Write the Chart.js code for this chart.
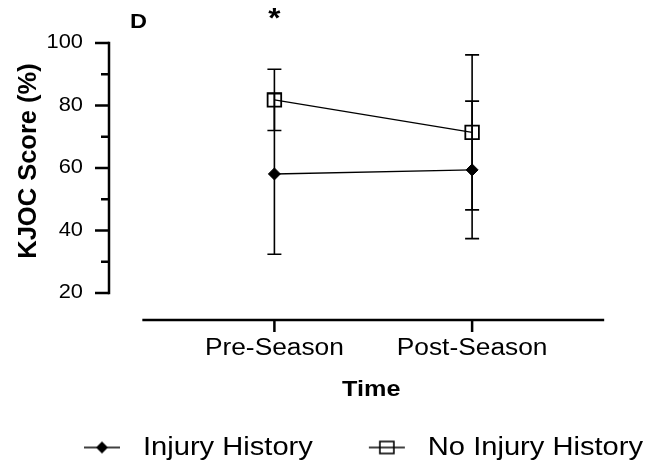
<!DOCTYPE html>
<html>
<head>
<meta charset="utf-8">
<script src="https://cdn.jsdelivr.net/npm/chart.js@4/dist/chart.umd.min.js"></script>
<style>
  html, body { margin: 0; padding: 0; background: #fff; }
  canvas { display: block; }
</style>
</head>
<body>
<canvas id="c" width="645" height="462"></canvas>
<script>
// ---- data ----
const categories = ['Pre-Season', 'Post-Season'];
const seriesNames = ['Injury History', 'No Injury History'];
const injuryMean = [58.1, 59.4];
const injurySD = [25.7, 22.0];
const noInjuryMean = [81.8, 71.4];
const noInjurySD = [9.8, 24.8];
const yMajorTicks = [20, 40, 60, 80, 100];
const yMinorTicks = [30, 50, 70, 90];
const significance = ['*', ''];
const panelLabel = 'D';
const xTitle = 'Time';
const yTitle = 'KJOC Score (%)';

// ---- layout / style ----
const FONT = '"Liberation Sans", Arial, Helvetica, sans-serif';
const TEXT_STRETCH = 1.12;          // horizontal widening of upright text
const X_MIN = -0.8366, X_MAX = 1.8168;   // x scale range (category index units)
const X_LINE_MIN = -0.668, X_LINE_MAX = 1.668; // drawn extent of the x axis line
const Y_MIN = 11.36, Y_MAX = 100;
const AXIS_W = 2.5;

const canvas = document.getElementById('c');
const ctx = canvas.getContext('2d');

// Wide-set lettering: stretch upright text horizontally, keep rotated text as is.
const rawFill = ctx.fillText.bind(ctx);
const rawMeasure = ctx.measureText.bind(ctx);
function isUpright() {
  const m = ctx.getTransform();
  return Math.abs(m.b) < 1e-6 && Math.abs(m.c) < 1e-6;
}
ctx.fillText = function (text, x, y, maxWidth) {
  if (!isUpright()) {
    return maxWidth === undefined ? rawFill(text, x, y) : rawFill(text, x, y, maxWidth);
  }
  ctx.save();
  ctx.translate(x, y);
  ctx.scale(TEXT_STRETCH, 1);
  if (maxWidth === undefined) rawFill(text, 0, 0);
  else rawFill(text, 0, 0, maxWidth / TEXT_STRETCH);
  ctx.restore();
};
ctx.measureText = function (text) {
  const m = rawMeasure(text);
  if (!isUpright()) return m;
  return {
    width: m.width * TEXT_STRETCH,
    actualBoundingBoxLeft: m.actualBoundingBoxLeft * TEXT_STRETCH,
    actualBoundingBoxRight: m.actualBoundingBoxRight * TEXT_STRETCH,
    actualBoundingBoxAscent: m.actualBoundingBoxAscent,
    actualBoundingBoxDescent: m.actualBoundingBoxDescent,
    fontBoundingBoxAscent: m.fontBoundingBoxAscent,
    fontBoundingBoxDescent: m.fontBoundingBoxDescent
  };
};

// Legend symbols: short line with the series marker
function makeIcon(kind) {
  const c = document.createElement('canvas');
  c.width = 100; c.height = 20;
  const g = c.getContext('2d');
  const cx = 73, cy = 10;
  g.strokeStyle = '#000';
  g.lineWidth = 1.6;
  g.beginPath(); g.moveTo(cx - 18, cy); g.lineTo(cx + 18, cy); g.stroke();
  if (kind === 'diamond') {
    g.fillStyle = '#000';
    g.beginPath();
    g.moveTo(cx - 6, cy); g.lineTo(cx, cy - 6); g.lineTo(cx + 6, cy); g.lineTo(cx, cy + 6);
    g.closePath(); g.fill();
  } else {
    g.strokeRect(cx - 7, cy - 6, 14, 12);
  }
  return c;
}
const legendIcons = [makeIcon('diamond'), makeIcon('square')];

// SD error bars behind the markers
const errorBars = {
  id: 'errorBars',
  beforeDatasetsDraw(chart) {
    const { ctx } = chart;
    const xs = chart.scales.x, ys = chart.scales.y;
    ctx.save();
    ctx.strokeStyle = '#000';
    ctx.lineWidth = 1.6;
    chart.data.datasets.forEach(ds => {
      ds.data.forEach((p, i) => {
        const x = xs.getPixelForValue(p.x);
        const top = ys.getPixelForValue(p.y + ds.sd[i]);
        const bot = ys.getPixelForValue(p.y - ds.sd[i]);
        ctx.beginPath();
        ctx.moveTo(x, top); ctx.lineTo(x, bot);
        ctx.moveTo(x - 7, top); ctx.lineTo(x + 7, top);
        ctx.moveTo(x - 7, bot); ctx.lineTo(x + 7, bot);
        ctx.stroke();
      });
    });
    ctx.restore();
  }
};

// Offset axes, tick marks, panel letter, significance mark and y title
const axesAndNotes = {
  id: 'axesAndNotes',
  afterDraw(chart) {
    const { ctx, chartArea } = chart;
    const xs = chart.scales.x, ys = chart.scales.y;
    ctx.save();
    ctx.strokeStyle = '#000';
    ctx.lineWidth = AXIS_W;
    ctx.lineCap = 'butt';

    // y axis
    const ax = chartArea.left;
    const yTop = ys.getPixelForValue(yMajorTicks[yMajorTicks.length - 1]);
    const yBot = ys.getPixelForValue(yMajorTicks[0]);
    ctx.beginPath();
    ctx.moveTo(ax, yTop - AXIS_W / 2); ctx.lineTo(ax, yBot + AXIS_W / 2);
    ctx.stroke();
    ctx.beginPath();
    yMajorTicks.forEach(v => { const p = ys.getPixelForValue(v); ctx.moveTo(ax - 14, p); ctx.lineTo(ax, p); });
    yMinorTicks.forEach(v => { const p = ys.getPixelForValue(v); ctx.moveTo(ax - 8, p); ctx.lineTo(ax, p); });
    ctx.stroke();

    // x axis
    const ay = chartArea.bottom;
    ctx.beginPath();
    ctx.moveTo(xs.getPixelForValue(X_LINE_MIN), ay); ctx.lineTo(xs.getPixelForValue(X_LINE_MAX), ay);
    categories.forEach((c, i) => { const p = xs.getPixelForValue(i); ctx.moveTo(p, ay); ctx.lineTo(p, ay + 12); });
    ctx.stroke();

    ctx.fillStyle = '#000';
    // panel letter
    ctx.font = 'bold 21px ' + FONT;
    ctx.textAlign = 'left';
    ctx.textBaseline = 'alphabetic';
    ctx.fillText(panelLabel, 130, 28);

    // significance marks
    ctx.font = 'bold 28px ' + FONT;
    ctx.textAlign = 'center';
    significance.forEach((s, i) => { if (s) ctx.fillText(s, xs.getPixelForValue(i), 27); });

    // y axis title
    ctx.font = 'bold 25.5px ' + FONT;
    ctx.textAlign = 'center';
    ctx.textBaseline = 'middle';
    ctx.translate(29, 161);
    ctx.rotate(-Math.PI / 2);
    ctx.fillText(yTitle, 0, 0);
    ctx.restore();
  }
};

new Chart(ctx, {
  type: 'line',
  data: {
    datasets: [
      {
        label: seriesNames[0],
        data: categories.map((c, i) => ({ x: i, y: injuryMean[i] })),
        sd: injurySD,
        borderColor: '#000',
        borderWidth: 1.4,
        pointStyle: 'rectRot',
        pointRadius: 6,
        pointBackgroundColor: '#000',
        pointBorderColor: '#000',
        pointBorderWidth: 1,
        fill: false,
        tension: 0
      },
      {
        label: seriesNames[1],
        data: categories.map((c, i) => ({ x: i, y: noInjuryMean[i] })),
        sd: noInjurySD,
        borderColor: '#000',
        borderWidth: 1.4,
        pointStyle: 'rect',
        pointRadius: 9.6,
        pointBackgroundColor: 'rgba(0,0,0,0)',
        pointBorderColor: '#000',
        pointBorderWidth: 1.8,
        fill: false,
        tension: 0
      }
    ]
  },
  options: {
    responsive: false,
    animation: false,
    layout: { padding: { top: 43, left: 26, right: 0, bottom: -8.5 } },
    plugins: {
      tooltip: { enabled: false },
      legend: {
        position: 'bottom',
        labels: {
          color: '#000',
          font: { size: 26, family: FONT },
          usePointStyle: true,
          pointStyleWidth: 102,
          padding: 0,
          generateLabels(chart) {
            const items = Chart.defaults.plugins.legend.labels.generateLabels(chart);
            items.forEach((it, i) => { it.pointStyle = legendIcons[i]; });
            return items;
          }
        }
      }
    },
    scales: {
      x: {
        type: 'linear',
        min: X_MIN,
        max: X_MAX,
        grid: { display: false },
        border: { display: false },
        afterBuildTicks(s) { s.ticks = categories.map((c, i) => ({ value: i })); },
        ticks: {
          autoSkip: false,
          maxRotation: 0,
          padding: 6,
          color: '#000',
          font: { size: 23.5, family: FONT },
          callback: (v) => categories[v] !== undefined ? categories[v] : ''
        },
        title: {
          display: true,
          text: xTitle,
          color: '#000',
          font: { size: 22.5, weight: 'bold', family: FONT },
          padding: { top: 0, bottom: 31 }
        },
        afterFit(s) { s.height = 114.5; }
      },
      y: {
        min: Y_MIN,
        max: Y_MAX,
        grid: { display: false },
        border: { display: false },
        afterBuildTicks(s) { s.ticks = yMajorTicks.map(v => ({ value: v })); },
        ticks: {
          padding: 18,
          color: '#000',
          font: { size: 19.5, family: FONT }
        },
        afterFit(s) { s.width = 83; }
      }
    }
  },
  plugins: [errorBars, axesAndNotes]
});
</script>
</body>
</html>
